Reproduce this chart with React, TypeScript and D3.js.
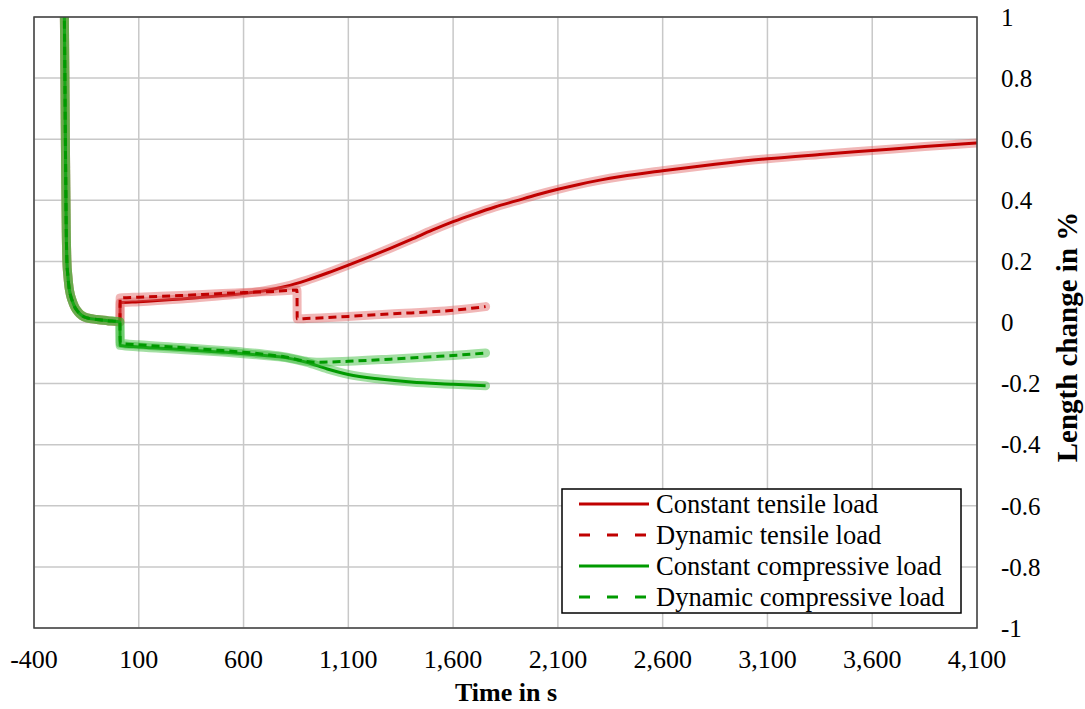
import React, { useEffect, useRef } from "react";
import * as d3 from "d3";

// shared start-up part (all four runs overlap here)
const initTime = [-258, -255, -252, -249, -246, -243, -238, -233, -226, -219, -205, -190, -170, -147, -100, -50, 10];
const initValue = [1.2, 1.0, 0.75, 0.5, 0.3, 0.2, 0.15, 0.116, 0.09, 0.074, 0.05, 0.035, 0.022, 0.015, 0.01, 0.006, 0.002];

const constTensileTime = [11, 100, 300, 500, 600, 700, 800, 900, 1000, 1100, 1200, 1300, 1400, 1500, 1600, 1700, 1800, 1900, 2000, 2100, 2200, 2300, 2400, 2600, 2850, 3100, 3350, 3600, 3850, 4100];
const constTensileValue = [0.065, 0.068, 0.077, 0.088, 0.095, 0.104, 0.118, 0.138, 0.162, 0.188, 0.215, 0.243, 0.272, 0.302, 0.33, 0.355, 0.378, 0.398, 0.418, 0.436, 0.452, 0.466, 0.478, 0.497, 0.518, 0.536, 0.55, 0.563, 0.576, 0.588];

const dynTensileTime = [11, 100, 300, 500, 600, 750, 855, 856, 900, 1100, 1300, 1600, 1755];
const dynTensileValue = [0.08, 0.083, 0.088, 0.095, 0.098, 0.102, 0.106, 0.012, 0.013, 0.02, 0.028, 0.04, 0.052];

const constCompTime = [11, 100, 300, 500, 600, 700, 800, 900, 1000, 1100, 1250, 1400, 1600, 1755];
const constCompValue = [-0.075, -0.08, -0.088, -0.097, -0.102, -0.108, -0.115, -0.13, -0.152, -0.17, -0.185, -0.195, -0.202, -0.207];

const dynCompTime = [11, 100, 300, 500, 600, 700, 800, 900, 950, 1100, 1300, 1500, 1600, 1755];
const dynCompValue = [-0.068, -0.073, -0.082, -0.092, -0.097, -0.104, -0.113, -0.127, -0.13, -0.127, -0.12, -0.112, -0.108, -0.1];

const xTicks = [-400, 100, 600, 1100, 1600, 2100, 2600, 3100, 3600, 4100];
const yTicks = [-1, -0.8, -0.6, -0.4, -0.2, 0, 0.2, 0.4, 0.6, 0.8, 1];

const series = [
  { name: "Constant tensile load", time: constTensileTime, value: constTensileValue, color: "#c00000", halo: "#e06060", dashed: false },
  { name: "Dynamic tensile load", time: dynTensileTime, value: dynTensileValue, color: "#c00000", halo: "#e06060", dashed: true },
  { name: "Constant compressive load", time: constCompTime, value: constCompValue, color: "#009a00", halo: "#33b833", dashed: false },
  { name: "Dynamic compressive load", time: dynCompTime, value: dynCompValue, color: "#009a00", halo: "#33b833", dashed: true },
];

export default function App() {
  const ref = useRef<SVGSVGElement>(null);
  const width = 1085;
  const height = 709;
  const margin = { left: 34, right: 108, top: 17, bottom: 81 };

  useEffect(() => {
    const svg = d3.select(ref.current);
    svg.selectAll("*").remove();

    const x = d3.scaleLinear().domain([-400, 4100]).range([margin.left, width - margin.right]);
    const y = d3.scaleLinear().domain([-1, 1]).range([height - margin.bottom, margin.top]);

    svg.append("defs").append("clipPath").attr("id", "plot-clip")
      .append("rect")
      .attr("x", margin.left).attr("y", margin.top)
      .attr("width", x.range()[1] - margin.left)
      .attr("height", y.range()[0] - margin.top);

    // grid
    const grid = svg.append("g").attr("stroke", "#c8c8c8").attr("stroke-width", 1.5);
    grid.selectAll("line.v").data(xTicks).enter().append("line")
      .attr("x1", (d) => x(d)).attr("x2", (d) => x(d))
      .attr("y1", margin.top).attr("y2", y(-1));
    grid.selectAll("line.h").data(yTicks).enter().append("line")
      .attr("x1", margin.left).attr("x2", x(4100))
      .attr("y1", (d) => y(d)).attr("y2", (d) => y(d));

    const line = d3.line<[number, number]>()
      .x((d) => x(d[0]))
      .y((d) => y(d[1]))
      .curve(d3.curveMonotoneX);

    const plot = svg.append("g").attr("clip-path", "url(#plot-clip)");
    series.forEach((s) => {
      const pts: [number, number][] = initTime.map((t, i) => [t, initValue[i]] as [number, number])
        .concat(s.time.map((t, i) => [t, s.value[i]] as [number, number]));
      plot.append("path")
        .attr("d", line(pts))
        .attr("fill", "none")
        .attr("stroke", s.halo)
        .attr("stroke-opacity", 0.45)
        .attr("stroke-width", 9)
        .attr("stroke-linejoin", "round")
        .attr("stroke-linecap", "round");
      plot.append("path")
        .attr("d", line(pts))
        .attr("fill", "none")
        .attr("stroke", s.color)
        .attr("stroke-width", 3)
        .attr("stroke-dasharray", s.dashed ? "8,5" : null)
        .attr("stroke-linejoin", "round");
    });

    // frame
    svg.append("rect")
      .attr("x", margin.left).attr("y", margin.top)
      .attr("width", x(4100) - margin.left).attr("height", y(-1) - margin.top)
      .attr("fill", "none").attr("stroke", "#404040").attr("stroke-width", 1.5);

    const font = "'Liberation Serif', 'Times New Roman', serif";

    // x tick labels
    svg.append("g")
      .attr("font-family", font).attr("font-size", 26).attr("text-anchor", "middle").attr("fill", "#000")
      .selectAll("text").data(xTicks).enter().append("text")
      .attr("x", (d) => x(d)).attr("y", 668)
      .text((d) => d3.format(",")(d).replace("\u2212", "-"));

    // y tick labels (right side)
    svg.append("g")
      .attr("font-family", font).attr("font-size", 25).attr("fill", "#000")
      .selectAll("text").data(yTicks).enter().append("text")
      .attr("x", 1001).attr("y", (d) => y(d)).attr("dy", "0.35em")
      .text((d) => String(d));

    svg.append("text")
      .attr("font-family", font).attr("font-size", 26).attr("font-weight", "bold")
      .attr("text-anchor", "middle")
      .attr("x", 506).attr("y", 701)
      .text("Time in s");

    svg.append("text")
      .attr("font-family", font).attr("font-size", 29).attr("font-weight", "bold")
      .attr("text-anchor", "middle")
      .attr("transform", `translate(1077, 337) rotate(-90)`)
      .text("Length change in %");

    // legend
    const lg = svg.append("g");
    lg.append("rect")
      .attr("x", 562).attr("y", 489).attr("width", 399).attr("height", 124)
      .attr("fill", "#fff").attr("stroke", "#000").attr("stroke-width", 1.5);
    series.forEach((s, i) => {
      const cy = 504 + i * 31;
      lg.append("line")
        .attr("x1", 579).attr("x2", 649).attr("y1", cy).attr("y2", cy)
        .attr("stroke", s.color).attr("stroke-width", 3)
        .attr("stroke-dasharray", s.dashed ? "11,17" : null);
      lg.append("text")
        .attr("font-family", font).attr("font-size", 26.5)
        .attr("x", 656).attr("y", cy).attr("dy", "0.33em")
        .text(s.name);
    });
  }, []);

  return (
    <svg
      ref={ref}
      width={width}
      height={height}
      style={{ position: "absolute", left: 0, top: 0, background: "#fff" }}
    />
  );
}
